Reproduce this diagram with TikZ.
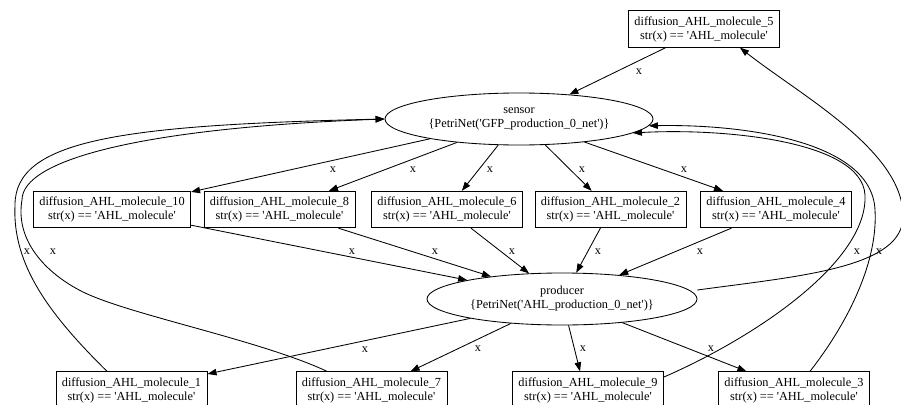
\documentclass[tikz,border=0pt]{standalone}
\usepackage{fontspec}
\newfontfamily\gvfont{Liberation Serif}
\usetikzlibrary{arrows.meta,shapes.geometric}

\begin{document}
\begin{tikzpicture}[x=1pt,y=-1pt,line width=0.85pt,
  font=\gvfont\fontsize{12.3}{14}\selectfont,
  box/.style={draw, rectangle, align=center, inner xsep=6pt, inner ysep=0pt, minimum height=36.5pt},
  place/.style={draw, ellipse, align=center, inner sep=0pt, minimum width=270pt, minimum height=52pt},
  lbl/.style={inner sep=0pt},
  arc/.style={-{Triangle[length=9pt,width=6.5pt]}}]
\useasboundingbox (0,0) rectangle (901,404);
\node[box] (mol5) at (704,29){diffusion\_AHL\_molecule\_5\\str(x) == 'AHL\_molecule'};
\node[place, minimum width=268pt] (sensor) at (519,119){sensor\\\{PetriNet('GFP\_production\_0\_net')\}};
\node[box] (mol10) at (112,209.5){diffusion\_AHL\_molecule\_10\\str(x) == 'AHL\_molecule'};
\node[box] (mol8) at (279.5,209.5){diffusion\_AHL\_molecule\_8\\str(x) == 'AHL\_molecule'};
\node[box] (mol6) at (447,209.5){diffusion\_AHL\_molecule\_6\\str(x) == 'AHL\_molecule'};
\node[box] (mol2) at (610.5,209.5){diffusion\_AHL\_molecule\_2\\str(x) == 'AHL\_molecule'};
\node[box] (mol4) at (776,209.5){diffusion\_AHL\_molecule\_4\\str(x) == 'AHL\_molecule'};
\node[place] (producer) at (562,299){producer\\\{PetriNet('AHL\_production\_0\_net')\}};
\node[box] (mol1) at (131.5,390){diffusion\_AHL\_molecule\_1\\str(x) == 'AHL\_molecule'};
\node[box] (mol7) at (371.5,390){diffusion\_AHL\_molecule\_7\\str(x) == 'AHL\_molecule'};
\node[box] (mol9) at (588,390){diffusion\_AHL\_molecule\_9\\str(x) == 'AHL\_molecule'};
\node[box] (mol3) at (794,390){diffusion\_AHL\_molecule\_3\\str(x) == 'AHL\_molecule'};
\draw[arc](mol5) -- (sensor);
\node[lbl] (x5s) at (639,72){x};
\draw[arc](sensor) -- (mol10);
\draw[arc](sensor) -- (mol8);
\draw[arc](sensor) -- (mol6);
\draw[arc](sensor) -- (mol2);
\draw[arc](sensor) -- (mol4);
\node[lbl] (xs10) at (333,170){x};
\node[lbl] (xs8) at (413,170){x};
\node[lbl] (xs6) at (490,170){x};
\node[lbl] (xs2) at (582,170){x};
\node[lbl] (xs4) at (684,170){x};
\draw[arc](mol10) -- (producer);
\draw[arc](mol8) -- (producer);
\draw[arc](mol6) -- (producer);
\draw[arc](mol2) -- (producer);
\draw[arc](mol4) -- (producer);
\node[lbl] (x10p) at (352,252){x};
\node[lbl] (x8p) at (435,252){x};
\node[lbl] (x6p) at (512,252){x};
\node[lbl] (x2p) at (598,252){x};
\node[lbl] (x4p) at (700,252){x};
\draw[arc](producer) -- (mol1);
\draw[arc](producer) -- (mol7);
\draw[arc](producer) -- ([xshift=-8pt]mol9.north);
\draw[arc](producer) -- (mol3);
\node[lbl] (xp1) at (365,350){x};
\node[lbl] (xp7) at (478,349){x};
\node[lbl] (xp9) at (583,349){x};
\node[lbl] (xp3) at (711,349){x};
\draw[arc]([xshift=-24.5pt]mol1.north) .. controls (50,315) and (12,265) .. (15,205) .. controls (15,140) and (120,125) .. (sensor.west);
\draw[arc]([xshift=-44.5pt]mol7.north) .. controls (260,340) and (130,315) .. (83,292) .. controls (45,273) and (15,240) .. (22,200) .. controls (22,160) and (140,128) .. (sensor.west);
\node[lbl] (x1s) at (27,252){x};
\node[lbl] (x7s) at (53,252){x};
\draw[arc]([yshift=13pt]mol9.east) .. controls (760,335) and (868,260) .. (865,195) .. controls (862,140) and (720,128) .. (sensor.-7);
\draw[arc]([xshift=16pt]mol3.north) .. controls (850,320) and (878,260) .. (875,210) .. controls (872,140) and (740,124) .. (sensor.-3);
\node[lbl] (x9s) at (857,252){x};
\node[lbl] (x3s) at (879,252){x};
\draw[arc]([yshift=9pt]producer.east) .. controls (800,276) and (905,268) .. (903,215) .. controls (902,150) and (800,95) .. ([xshift=36pt]mol5.south);
\end{tikzpicture}
\end{document}
